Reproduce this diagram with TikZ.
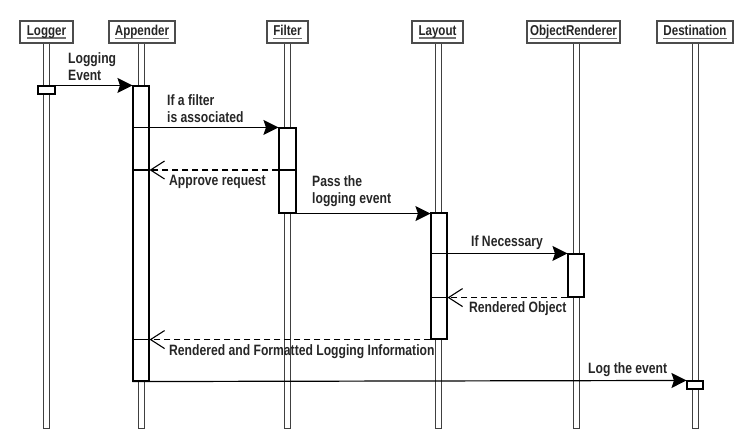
\documentclass[tikz,border=0pt]{standalone}
\usepackage{fontspec}
\setmainfont[FakeStretch=0.81]{Liberation Sans}
\usetikzlibrary{arrows.meta}
\newcommand\myul[1]{\setbox0=\hbox{#1}\rlap{\color{black!55}\rule[-3.4pt]{\wd0}{1.3pt}}\box0}
\begin{document}
\begin{tikzpicture}[x=1pt,y=-1pt,
  hdr/.style={draw=black!70, line width=1.2pt, fill=white, minimum height=22pt, inner sep=0pt,
    font=\fontsize{14.3}{16}\selectfont\bfseries, text=black!85},
  life/.style={draw=black!75, line width=0.8pt, fill=white, minimum width=6pt, minimum height=385pt, inner sep=0pt},
  act/.style={draw=black, line width=1.1pt, fill=white, minimum width=16pt, inner sep=0pt},
  msg/.style={line width=1.2pt, -{Stealth[length=15pt,width=15pt,inset=2.5pt]}},
  ret/.style={line width=1.1pt, dash pattern=on 6pt off 4pt, -{Straight Barb[length=14pt,width=18pt]}},
  seg/.style={line width=1.1pt},
  lbl/.style={anchor=west, align=left, inner sep=0pt, font=\fontsize{15}{17.5}\selectfont\bfseries, text=black!85}
]
\useasboundingbox (0,0) rectangle (754,440);
% lifelines
\node[life] (lLog) at (46,235.5) {};
\node[life] (lApp) at (141,235.5) {};
\node[life] (lFil) at (287.5,235.5) {};
\node[life] (lLay) at (438,235.5) {};
\node[life] (lObj) at (576,235.5) {};
\node[life] (lDst) at (695,235.5) {};
% headers
\node[hdr, minimum width=53pt] (hLog) at (46.5,32) {\myul{Logger}};
\node[hdr, minimum width=66pt] (hApp) at (142,32) {\myul{Appender}};
\node[hdr, minimum width=41pt] (hFil) at (287.5,32) {\myul{Filter}};
\node[hdr, minimum width=51pt] (hLay) at (437.5,32) {\myul{Layout}};
\node[hdr, minimum width=93pt] (hObj) at (573.5,32) {\myul{ObjectRenderer}};
\node[hdr, minimum width=76pt] (hDst) at (695,32) {\myul{Destination}};
% activations
\node[act, minimum width=17pt, minimum height=8pt] (aLog) at (46.5,90) {};
\node[act, minimum height=295pt] (aApp) at (141,233.5) {};
\node[act, minimum width=17pt, minimum height=85pt] (aFil) at (287.5,170.5) {};
\node[act, minimum height=126pt] (aLay) at (439,276) {};
\node[act, minimum height=43pt] (aObj) at (576,275.5) {};
\node[act, minimum height=8pt] (aDst) at (695,385) {};
% coordinates for return messages
\coordinate (r1) at (0,170);
% messages
\draw[msg] (aLog.north east) -- (aApp.north west);
\draw[msg] (aApp.west |- aFil.north) -- (aFil.north west);
\draw[seg] (aFil.west |- r1) -- (aFil.east |- r1);
\draw[ret] (aFil.west |- r1) -- (aApp.east |- r1);
\draw[seg] (aApp.west |- r1) -- (aApp.east |- r1);
\draw[msg] (aFil.south west) -- (aLay.west |- aFil.south);
\draw[msg] (aLay.west |- aObj.north) -- (aObj.north west);
\draw[ret] (aObj.south west) -- (aLay.east |- aObj.south);
\draw[seg] (aLay.west |- aObj.south) -- (aLay.east |- aObj.south);
\draw[ret] (aLay.south west) -- (aApp.east |- aLay.south);
\draw[seg] (aApp.west |- aLay.south) -- (aApp.east |- aLay.south);
\draw[msg] (aApp.south west) -- (aDst.north west);
% labels
\node[lbl] (t1) at (68,66.5) {Logging\\Event};
\node[lbl] (t2) at (167,108.5) {If a filter\\is associated};
\node[lbl] (t3) at (169,182) {Approve request};
\node[lbl] (t4) at (312,191) {Pass the\\logging event};
\node[lbl] (t5) at (471,243) {If Necessary};
\node[lbl] (t6) at (469,309) {Rendered Object};
\node[lbl] (t7) at (169,352) {Rendered and Formatted Logging Information};
\node[lbl] (t8) at (588,370) {Log the event};
\end{tikzpicture}
\end{document}
